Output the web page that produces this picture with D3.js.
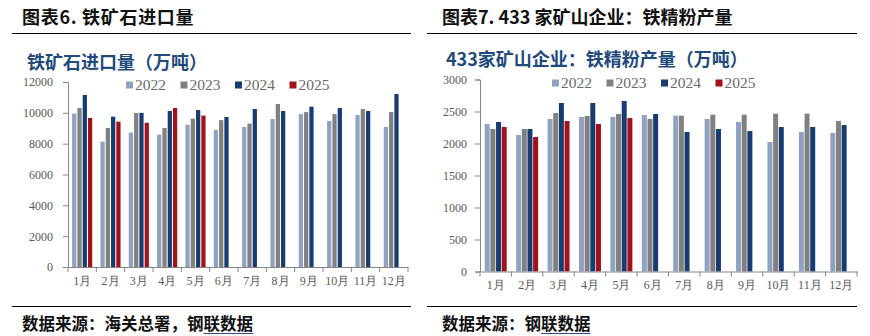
<!DOCTYPE html>
<html>
<head>
<meta charset="utf-8">
<script src="https://cdn.jsdelivr.net/npm/d3@7"></script>
<style>
  html, body { margin: 0; padding: 0; background: #fff; }
  svg { display: block; }
</style>
</head>
<body>
<svg id="chart" width="870" height="336"></svg>
<script>
// ---------- data ----------
const months = ["1月","2月","3月","4月","5月","6月","7月","8月","9月","10月","11月","12月"];
const years = ["2022","2023","2024","2025"];

// 铁矿石进口量（万吨）
const imp2022 = [9950, 8130, 8720, 8590, 9230, 8890, 9080, 9600, 9920, 9470, 9860, 9080];
const imp2023 = [10310, 9020, 9990, 9020, 9620, 9530, 9300, 10570, 10050, 9920, 10250, 10050];
const imp2024 = [11160, 9750, 10000, 10120, 10180, 9730, 10250, 10120, 10400, 10310, 10120, 11220];
const imp2025 = [9670, 9430, 9360, 10310, 9820];
const impTicks = [0, 2000, 4000, 6000, 8000, 10000, 12000];

// 433家矿山企业：铁精粉产量（万吨）
const ore2022 = [2305, 2133, 2383, 2414, 2414, 2445, 2435, 2383, 2336, 2023, 2180, 2164];
const ore2023 = [2227, 2227, 2477, 2430, 2461, 2383, 2435, 2450, 2450, 2466, 2466, 2352];
const ore2024 = [2336, 2227, 2633, 2633, 2664, 2461, 2180, 2227, 2195, 2258, 2258, 2289];
const ore2025 = [2258, 2102, 2352, 2305, 2398];
const oreTicks = [0, 500, 1000, 1500, 2000, 2500, 3000];

const colors = { "2022": "#8FA2C2", "2023": "#808080", "2024": "#173C72", "2025": "#A3121C" };

// ---------- drawing ----------
const svg = d3.select("#chart");
const cjk = "'Noto Sans CJK SC', 'Noto Sans', sans-serif";
const serif = "'Liberation Serif', 'DejaVu Serif', serif";
const titleBlue = "#1F4A7C";

function panel(opt) {
  const g = svg.append("g");
  // header
  g.append("text").attr("x", opt.hx).attr("y", 23.5)
    .attr("font-family", cjk).attr("font-weight", 700).attr("font-size", 18)
    .attr("letter-spacing", opt.hls)
    .attr("fill", "#111").text(opt.header);
  g.append("line").attr("x1", opt.lineX[0]).attr("x2", opt.lineX[1])
    .attr("y1", 33.5).attr("y2", 33.5).attr("stroke", "#000").attr("stroke-width", 1.2);
  g.append("line").attr("x1", opt.lineX[0]).attr("x2", opt.lineX[1])
    .attr("y1", 306.5).attr("y2", 306.5).attr("stroke", "#000").attr("stroke-width", 1.2);
  // chart title
  g.append("text").attr("x", opt.tx).attr("y", opt.ty)
    .attr("font-family", cjk).attr("font-weight", opt.tw).attr("font-size", opt.tsize)
    .attr("fill", titleBlue).text(opt.title);
  // source
  const src = g.append("text").attr("x", opt.hx).attr("y", 330)
    .attr("font-family", cjk).attr("font-weight", 700).attr("font-size", 16.5)
    .attr("fill", "#111");
  src.append("tspan").text(opt.source[0]);
  const under = src.append("tspan").attr("fill", "#111").text(opt.source[1]);
  const bb = src.node().getBBox();
  const uw = under.node().getComputedTextLength();
  g.append("line").attr("x1", bb.x + bb.width - uw).attr("x2", bb.x + bb.width)
    .attr("y1", 333.5).attr("y2", 333.5).attr("stroke", "#2E4F7E").attr("stroke-width", 1.2);

  // scales
  const x0 = d3.scaleBand().domain(months).range(opt.xr).paddingInner(opt.pad).paddingOuter(opt.pad / 2);
  const x1 = d3.scaleBand().domain(years).range([0, x0.bandwidth()]).paddingInner(opt.innerPad);
  const y = d3.scaleLinear().domain([0, opt.ticks[opt.ticks.length - 1]]).range(opt.yr);

  // bars
  const series = opt.series;
  const rows = [];
  years.forEach(yr => series[yr].forEach((v, i) => rows.push({ yr, m: months[i], v })));
  g.append("g").selectAll("rect").data(rows).join("rect")
    .attr("x", d => x0(d.m) + x1(d.yr))
    .attr("width", x1.bandwidth())
    .attr("y", d => y(d.v))
    .attr("height", d => y(0) - y(d.v))
    .attr("fill", d => colors[d.yr]);

  // y axis
  const ya = g.append("g").attr("transform", `translate(${opt.xr[0]},0)`)
    .call(d3.axisLeft(y).tickValues(opt.ticks).tickSize(5).tickPadding(opt.ypad).tickFormat(d3.format("d")));
  ya.select(".domain").attr("stroke", "#868686");
  ya.selectAll(".tick line").attr("stroke", "#868686");
  ya.selectAll(".tick text").attr("font-family", serif).attr("font-size", 12).attr("fill", "#595959");

  // x axis with ticks at band boundaries
  const xa = g.append("g").attr("transform", `translate(0,${opt.yr[0]})`)
    .call(d3.axisBottom(x0).tickSize(0).tickPadding(opt.xpad));
  xa.select(".domain").attr("stroke", "#868686");
  xa.selectAll(".tick text").attr("font-family", serif).attr("font-size", 12).attr("fill", "#595959");
  const step = x0.step();
  g.append("g").selectAll("line").data(d3.range(months.length + 1)).join("line")
    .attr("x1", i => opt.xr[0] + i * step).attr("x2", i => opt.xr[0] + i * step)
    .attr("y1", opt.yr[0]).attr("y2", opt.yr[0] + 5).attr("stroke", "#868686");

  // legend
  const lg = g.append("g");
  years.forEach((yr, i) => {
    const lx = opt.lx + i * 54.5;
    lg.append("rect").attr("x", lx).attr("y", opt.ly - 3.5).attr("width", 7).attr("height", 7).attr("fill", colors[yr]);
    lg.append("text").attr("x", lx + 9).attr("y", opt.ly + 5)
      .attr("font-family", serif).attr("font-size", 15.5).attr("fill", "#6A6A6A").text(yr);
  });
}

panel({
  header: "图表6.  铁矿石进口量", hx: 22, hls: 0.7, lineX: [12, 411],
  title: "铁矿石进口量（万吨）", tx: 27, ty: 69, tsize: 18, tw: 700,
  source: ["数据来源：海关总署，钢", "联数据"],
  xr: [68, 408], yr: [267, 82], ticks: impTicks, pad: 0.29, innerPad: 0.2, ypad: 10, xpad: 9,
  series: { "2022": imp2022, "2023": imp2023, "2024": imp2024, "2025": imp2025 },
  lx: 126, ly: 85
});

panel({
  header: "图表7.  433 家矿山企业：铁精粉产量", hx: 442, hls: 0, lineX: [427, 857],
  title: "433家矿山企业：铁精粉产量（万吨）", tx: 446, ty: 66, tsize: 18, tw: 700,
  source: ["数据来源：钢", "联数据"],
  xr: [480, 857], yr: [271.5, 79.5], ticks: oreTicks, pad: 0.30, innerPad: 0.12, ypad: 8, xpad: 9,
  series: { "2022": ore2022, "2023": ore2023, "2024": ore2024, "2025": ore2025 },
  lx: 552, ly: 83
});
</script>
</body>
</html>
